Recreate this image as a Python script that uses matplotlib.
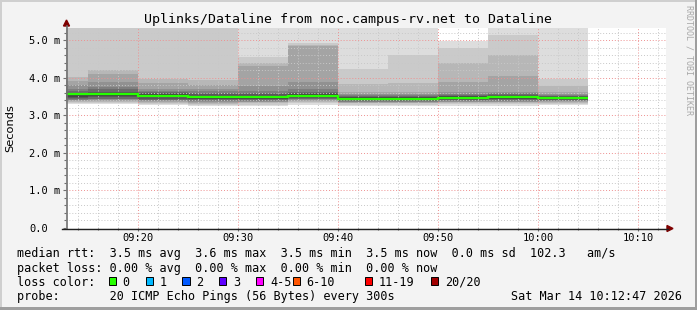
import numpy as np
import pandas as pd
import matplotlib
matplotlib.use("Agg")
import matplotlib.pyplot as plt
import matplotlib.dates as mdates
from matplotlib.patches import Rectangle, Polygon
from matplotlib.lines import Line2D

W, H = 697, 310
MONO = "DejaVu Sans Mono"

# ---------------------------------------------------------------- data
# 5-minute steps, labelled by step end; the first one starts at 09:10
day = "2026-03-14"
first_start = "09:10"
step_end = ["09:15", "09:20", "09:25", "09:30", "09:35", "09:40",
            "09:45", "09:50", "09:55", "10:00", "10:05"]

# 20 sorted ping rtts per step (ms); values above the top are off-chart
pings_ms = [
    [3.30, 3.33, 3.36, 3.39, 3.41, 3.42, 3.44, 3.46, 3.50, 3.54,
     3.56, 3.58, 3.61, 3.66, 3.71, 3.81, 3.92, 4.03, 6.50, 9.00],
    [3.31, 3.34, 3.37, 3.39, 3.41, 3.43, 3.45, 3.48, 3.52, 3.55,
     3.57, 3.59, 3.63, 3.70, 3.76, 3.89, 4.11, 4.21, 6.50, 9.00],
    [3.27, 3.30, 3.33, 3.35, 3.38, 3.40, 3.42, 3.45, 3.48, 3.51,
     3.53, 3.56, 3.59, 3.62, 3.66, 3.71, 3.87, 3.97, 6.00, 8.50],
    [3.24, 3.27, 3.30, 3.33, 3.36, 3.38, 3.40, 3.43, 3.45, 3.48,
     3.50, 3.53, 3.56, 3.59, 3.64, 3.71, 3.81, 3.95, 6.00, 8.50],
    [3.25, 3.29, 3.33, 3.35, 3.37, 3.39, 3.41, 3.43, 3.45, 3.47,
     3.49, 3.53, 3.56, 3.60, 3.66, 3.78, 4.33, 4.40, 4.55, 7.00],
    [3.28, 3.32, 3.36, 3.39, 3.41, 3.43, 3.45, 3.47, 3.49, 3.52,
     3.54, 3.56, 3.59, 3.63, 3.70, 3.90, 4.84, 4.88, 4.93, 7.50],
    [3.25, 3.29, 3.32, 3.34, 3.36, 3.37, 3.39, 3.40, 3.42, 3.44,
     3.46, 3.48, 3.50, 3.52, 3.55, 3.58, 3.63, 3.83, 4.25, 6.50],
    [3.25, 3.29, 3.32, 3.34, 3.36, 3.37, 3.39, 3.40, 3.42, 3.44,
     3.46, 3.48, 3.50, 3.52, 3.55, 3.58, 3.63, 3.86, 4.60, 7.00],
    [3.26, 3.30, 3.33, 3.35, 3.37, 3.39, 3.41, 3.42, 3.44, 3.46,
     3.48, 3.51, 3.53, 3.55, 3.58, 3.63, 3.90, 4.40, 4.80, 4.99],
    [3.26, 3.30, 3.33, 3.35, 3.37, 3.39, 3.41, 3.43, 3.45, 3.47,
     3.49, 3.52, 3.54, 3.57, 3.60, 3.63, 4.06, 4.60, 5.15, 7.00],
    [3.27, 3.31, 3.34, 3.36, 3.38, 3.39, 3.41, 3.42, 3.44, 3.46,
     3.48, 3.50, 3.51, 3.53, 3.55, 3.58, 3.63, 3.79, 3.97, 6.50],
]
median_ms = [3.56, 3.56, 3.52, 3.49, 3.48, 3.53, 3.45, 3.45, 3.47, 3.48, 3.47]

ytick_vals = [0, 1, 2, 3, 4, 5]
ytick_labels = ["0.0", "1.0 m", "2.0 m", "3.0 m", "4.0 m", "5.0 m"]
y_top = 5.333
view_start, view_end = "09:12:47", "10:12:47"

title = "Uplinks/Dataline from noc.campus-rv.net to Dataline"
legend_rows = [
    "median rtt:  3.5 ms avg  3.6 ms max  3.5 ms min  3.5 ms now  0.0 ms sd  102.3   am/s",
    "packet loss: 0.00 % avg  0.00 % max  0.00 % min  0.00 % now",
    "loss color:",
    "probe:       20 ICMP Echo Pings (56 Bytes) every 300s",
]
loss_labels = ["0", "1", "2", "3", "4-5", "6-10", "11-19", "20/20"]
loss_colors = ["#26ff00", "#00b8ff", "#0059ff", "#5e00ff",
               "#ff00ff", "#ff5500", "#ff0000", "#a10000"]
stamp = "Sat Mar 14 10:12:47 2026"

# ---------------------------------------------------------------- helpers

def fx(x):
    return x / W


def fy(y):
    return 1 - y / H


def t(hhmm):
    return mdates.date2num(pd.Timestamp(f"{day} {hhmm}"))


# ---------------------------------------------------------------- figure
fig = plt.figure(figsize=(W / 100, H / 100), dpi=100, facecolor="#f3f3f3")
ax = fig.add_axes([fx(66), fy(228), 600 / W, 200 / H])
ax.set_facecolor("white")

edges = np.array([t(first_start)] + [t(s) for s in step_end])
P = np.array(pings_ms)
half = P.shape[1] // 2
for k in range(half):
    shade = int(190 / half * (half - (k + 1))) + 50
    col = "#" + f"{shade:02x}" * 3
    ax.stairs(P[:, -1 - k], edges, baseline=P[:, k], fill=True,
              color=col, lw=0, zorder=1)

ax.stairs(median_ms, edges, baseline=None, color=loss_colors[0],
          lw=1.6, zorder=4)

ax.set_xlim(t(view_start), t(view_end))
ax.set_ylim(0, y_top)

ax.xaxis.set_major_locator(mdates.MinuteLocator(byminute=range(0, 60, 10)))
ax.xaxis.set_minor_locator(mdates.MinuteLocator(byminute=range(0, 60, 2)))
ax.xaxis.set_major_formatter(mdates.DateFormatter("%H:%M"))
ax.set_yticks(ytick_vals, ytick_labels)
ax.set_yticks(np.arange(0, y_top, 0.2), minor=True)

ax.tick_params(which="both", direction="out", color="#707070", width=0.8)
ax.tick_params(which="major", length=2.2, labelsize=7.5)
ax.tick_params(which="minor", length=1.5)
ax.tick_params(axis="x", which="major", pad=1.5)
ax.tick_params(axis="y", which="major", pad=24.5)
for lab in ax.get_xticklabels() + ax.get_yticklabels():
    lab.set_family(MONO)
for lab in ax.get_yticklabels():
    lab.set_ha("left")

ax.set_axisbelow(False)
ax.grid(which="minor", color="#c8c8c8", linestyle=(0, (1, 2)), lw=0.7)
ax.grid(which="major", color="#ee9090", linestyle=(0, (1, 2)), lw=0.7)
for sp in ax.spines.values():
    sp.set_visible(False)

# axes lines with arrow heads, drawn in figure pixels
fig.add_artist(Line2D([fx(66.5), fx(66.5)], [fy(229), fy(26)],
                      color="#707070", lw=1.2, transform=fig.transFigure))
fig.add_artist(Line2D([fx(62), fx(668)], [fy(228.5), fy(228.5)],
                      color="#202020", lw=1.0, transform=fig.transFigure))
fig.add_artist(Polygon([[fx(63.5), fy(26)], [fx(69.5), fy(26)], [fx(66.5), fy(20)]],
                       closed=True, color="#7f0000", transform=fig.transFigure))
fig.add_artist(Polygon([[fx(667), fy(225.5)], [fx(667), fy(231.5)], [fx(673), fy(228.5)]],
                       closed=True, color="#7f0000", transform=fig.transFigure))

# frame
for (x0, y0, w, h, c) in [(0, 0, W, 2, "#cfcfcf"), (0, 0, 2, H, "#cfcfcf"),
                          (0, H - 3, W, 3, "#9e9e9e"), (W - 2, 0, 2, H, "#9e9e9e")]:
    fig.add_artist(Rectangle((fx(x0), fy(y0 + h)), w / W, h / H, color=c,
                             lw=0, transform=fig.transFigure))

# ---------------------------------------------------------------- text
fig.text(fx(348), fy(23.3), title, family=MONO, fontsize=9.5,
         ha="center", va="baseline")
fig.text(fx(10.7), fy(128), "Seconds", fontsize=8.2, rotation=90,
         ha="center", va="center")
fig.text(fx(689), fy(60), "RRDTOOL / TOBI OETIKER", family=MONO, fontsize=6,
         color="#a8a8a8", rotation=270, ha="center", va="center")

baselines = [257.5, 271.7, 285.8, 300]
for row, yb in zip(legend_rows, baselines):
    fig.text(fx(16.7), fy(yb), row, family=MONO, fontsize=8.5, va="baseline")
fig.text(fx(682), fy(baselines[3]), stamp, family=MONO, fontsize=8.5,
         ha="right", va="baseline")

box_x = [108.7, 145.7, 182.3, 219, 256, 292.7, 365, 431]
for bx, lab, col in zip(box_x, loss_labels, loss_colors):
    fig.add_artist(Rectangle((fx(bx), fy(285.3)), 7.3 / W, 8 / H,
                             facecolor=col, edgecolor="black", lw=0.7,
                             transform=fig.transFigure))
    fig.text(fx(bx + 14), fy(baselines[2]), lab, family=MONO, fontsize=8.5,
             va="baseline")

fig.savefig("out.png", dpi=100, facecolor=fig.get_facecolor())
